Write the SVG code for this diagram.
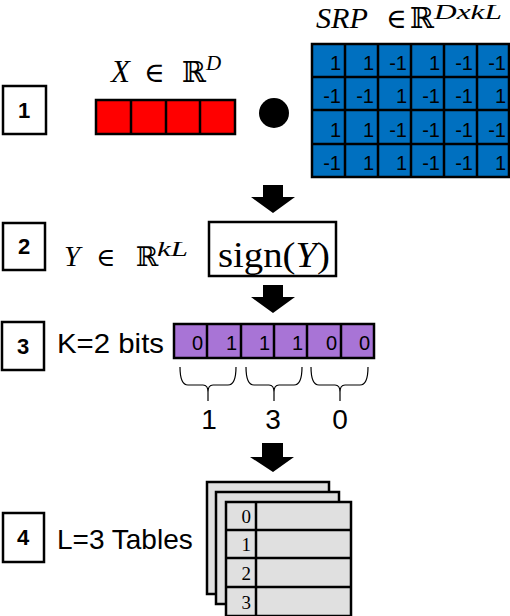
<svg xmlns="http://www.w3.org/2000/svg" width="510" height="616" viewBox="0 0 510 616">
<style>
.step{fill:#fff;stroke:#000;stroke-width:2.5}
.stepT{font-family:"Liberation Sans",Arial,sans-serif;font-weight:bold;font-size:22px;text-anchor:middle}
.math{font-family:"Liberation Serif","DejaVu Serif",serif;font-style:italic}
.bb{font-family:"DejaVu Serif",serif;font-style:normal}
.cellT{font-family:"Liberation Sans",Arial,sans-serif;font-size:20px;text-anchor:end}
.lbl{font-family:"Liberation Sans",Arial,sans-serif;font-size:28px}
.grid{stroke:#000;stroke-width:2.5}
.arrow{fill:#000}
.brace{fill:none;stroke:#000;stroke-width:1.2}
.sheet{fill:#e0e0e0;stroke:#000;stroke-width:2.5}
.tabT{font-family:"Liberation Serif",serif;font-size:19px;text-anchor:end}
</style>

<g id="step1">
<rect class="step" x="3" y="86" width="43" height="48"/>
<text class="stepT" x="24" y="118">1</text>
</g>
<g id="x-vector">
<text class="math" y="82" font-size="31"><tspan x="111">X</tspan><tspan class="bb" x="144" font-size="28">∈</tspan><tspan class="bb" x="182" font-size="29">ℝ</tspan><tspan x="206" y="70" font-size="21">D</tspan></text>
<rect x="96" y="100" width="139" height="34" fill="#ff0000" class="grid"/>
<line class="grid" x1="131" y1="100" x2="131" y2="134"/>
<line class="grid" x1="166" y1="100" x2="166" y2="134"/>
<line class="grid" x1="200" y1="100" x2="200" y2="134"/>
</g>
<g id="dot">
<circle cx="274" cy="113" r="15" fill="#000"/>
</g>
<g id="srp">
<text class="math" x="316" y="28" font-size="30" textLength="52" lengthAdjust="spacingAndGlyphs">SRP</text>
<text class="bb" x="386" y="28" font-size="28">∈</text>
<text class="bb" x="410" y="28" font-size="29">ℝ</text>
<text class="math" x="434" y="19" font-size="20" textLength="68" lengthAdjust="spacingAndGlyphs">DxkL</text>
<rect x="312" y="44" width="197" height="133" fill="#0070c0" class="grid"/>
<g class="grid">
<line x1="345" y1="44" x2="345" y2="177"/><line x1="378" y1="44" x2="378" y2="177"/><line x1="411" y1="44" x2="411" y2="177"/><line x1="444" y1="44" x2="444" y2="177"/><line x1="477" y1="44" x2="477" y2="177"/>
<line x1="312" y1="77" x2="509" y2="77"/><line x1="312" y1="110" x2="509" y2="110"/><line x1="312" y1="144" x2="509" y2="144"/>
</g>
<g class="cellT">
<text x="341" y="70">1</text><text x="374" y="70">1</text><text x="407" y="70">-1</text><text x="440" y="70">1</text><text x="473" y="70">-1</text><text x="506" y="70">-1</text>
<text x="341" y="103">-1</text><text x="374" y="103">-1</text><text x="407" y="103">1</text><text x="440" y="103">-1</text><text x="473" y="103">-1</text><text x="506" y="103">1</text>
<text x="341" y="137">1</text><text x="374" y="137">1</text><text x="407" y="137">-1</text><text x="440" y="137">-1</text><text x="473" y="137">-1</text><text x="506" y="137">-1</text>
<text x="341" y="170">-1</text><text x="374" y="170">1</text><text x="407" y="170">1</text><text x="440" y="170">-1</text><text x="473" y="170">-1</text><text x="506" y="170">1</text>
</g>
</g>

<g id="step2">
<rect class="step" x="3" y="223" width="42" height="47"/>
<text class="stepT" x="24" y="254">2</text>
</g>
<g id="y-vector">
<text class="math" x="64" y="266" font-size="29">Y</text>
<text class="bb" x="96" y="266" font-size="26">∈</text>
<text class="bb" x="136" y="266" font-size="27">ℝ</text>
<text class="math" x="157" y="256" font-size="20" textLength="31" lengthAdjust="spacingAndGlyphs">kL</text>
</g>
<g id="sign">
<rect x="209" y="222" width="127" height="54" fill="#fff" stroke="#000" stroke-width="2.5"/>
<text x="218" y="267" font-family="Liberation Serif,serif" font-size="35" textLength="112" lengthAdjust="spacingAndGlyphs">sign(<tspan font-style="italic">Y</tspan>)</text>
</g>

<g id="step3">
<rect class="step" x="2" y="322" width="42" height="48"/>
<text class="stepT" x="23" y="354">3</text>
</g>
<g id="bits">
<text class="lbl" x="57" y="353" textLength="107" lengthAdjust="spacingAndGlyphs">K=2 bits</text>
<rect x="174" y="324" width="200" height="34" fill="#a874d6" class="grid"/>
<g class="grid">
<line x1="207" y1="324" x2="207" y2="358"/><line x1="241" y1="324" x2="241" y2="358"/><line x1="274" y1="324" x2="274" y2="358"/><line x1="307" y1="324" x2="307" y2="358"/><line x1="341" y1="324" x2="341" y2="358"/>
</g>
<g class="cellT">
<text x="203" y="350">0</text><text x="237" y="350">1</text><text x="270" y="350">1</text><text x="303" y="350">1</text><text x="337" y="350">0</text><text x="370" y="350">0</text>
</g>
</g>
<g id="braces" class="brace">
<path d="M180,367 Q180,385 188,385 L203,385 Q208,385 208,392 L208,401 M208,392 Q208,385 213,385 L228,385 Q236,385 236,367"/>
<path d="M246,367 Q246,385 254,385 L269,385 Q274,385 274,392 L274,401 M274,392 Q274,385 279,385 L294,385 Q302,385 302,367"/>
<path d="M311,367 Q311,385 319,385 L335,385 Q340,385 340,392 L340,401 M340,392 Q340,385 345,385 L360,385 Q368,385 368,367"/>
</g>
<g id="codes" class="lbl" text-anchor="middle">
<text x="209" y="429">1</text><text x="273" y="429">3</text><text x="340" y="429">0</text>
</g>

<g id="step4">
<rect class="step" x="3" y="513" width="41" height="49"/>
<text class="stepT" x="23" y="545">4</text>
</g>
<g id="tables">
<text class="lbl" x="57" y="549">L=3 Tables</text>
<rect class="sheet" x="207" y="482" width="122" height="112"/>
<rect class="sheet" x="216" y="492" width="123" height="112"/>
<rect class="sheet" x="226" y="502" width="125" height="114"/>
<g class="grid">
<line x1="256" y1="502" x2="256" y2="616"/>
<line x1="226" y1="530" x2="351" y2="530"/><line x1="226" y1="558" x2="351" y2="558"/><line x1="226" y1="587" x2="351" y2="587"/>
</g>
<g class="tabT">
<text x="251" y="523">0</text><text x="251" y="551">1</text><text x="251" y="580">2</text><text x="251" y="609">3</text>
</g>
</g>

<g id="connectors" class="arrow">
<polygon points="263,185 283,185 283,197 295,197 273,213 251,197 263,197"/>
<polygon points="263,285 283,285 283,297 295,297 273,313 251,297 263,297"/>
<polygon points="262,443 283,443 283,457 294,457 273,472 250,457 262,457"/>
</g>
</svg>
